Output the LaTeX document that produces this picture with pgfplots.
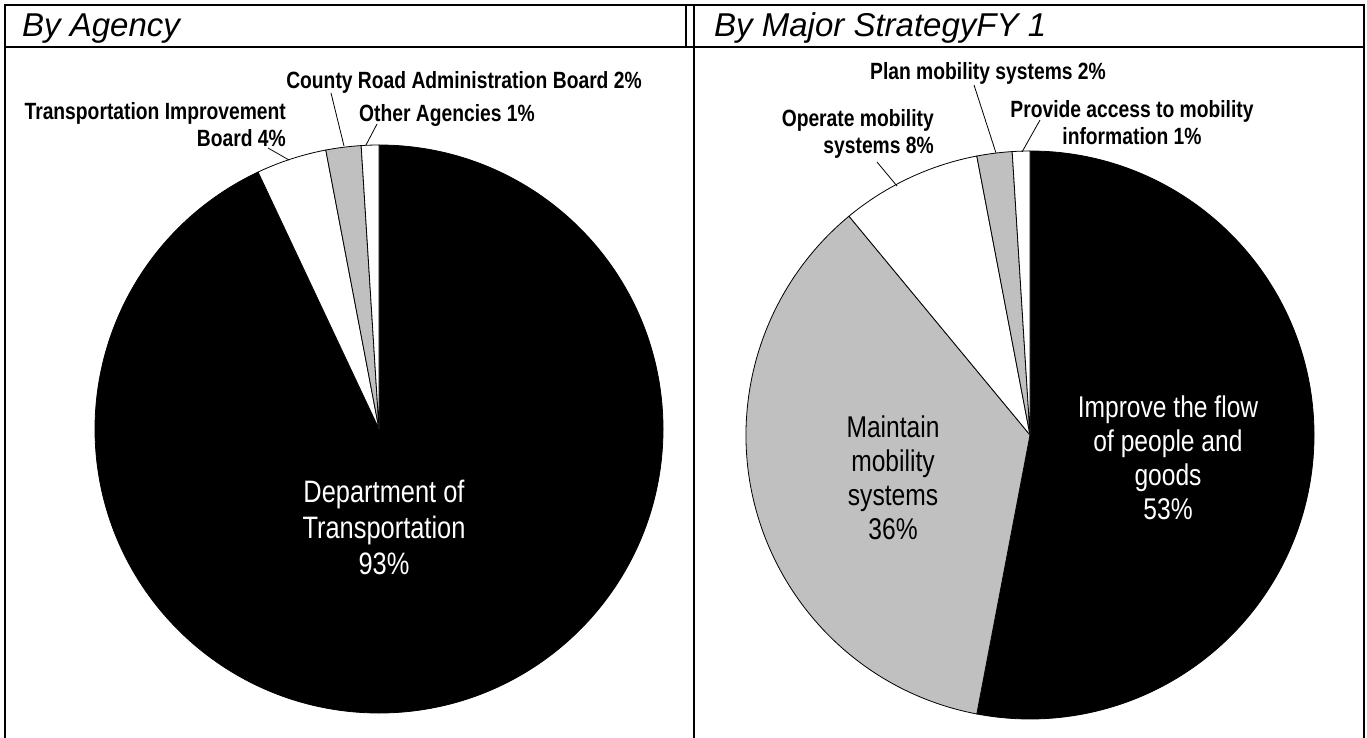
\documentclass[border=0pt]{standalone}
\usepackage{pgfplots}
\usepackage{pgfplotstable}
\pgfplotsset{compat=1.18}
\usepackage{fontspec}
\setmainfont{Liberation Sans}
\newfontfamily\lblfont{Liberation Sans}[FakeStretch=0.82]
\newfontfamily\inlfont{Liberation Sans}[FakeStretch=0.82]
\newfontfamily\ttlfont{Liberation Sans}
\definecolor{slicegray}{HTML}{C0C0C0}

\pgfplotstableread{
value fillc
93 black
4 white
2 slicegray
1 white
}\agency

\pgfplotstableread{
value fillc
53 black
36 slicegray
8 white
2 slicegray
1 white
}\strategy

% draw a pie from a table: #1 table, #2 cx, #3 cy, #4 radius
\newcommand{\drawpie}[4]{%
  \pgfplotstablegetrowsof{#1}%
  \pgfmathtruncatemacro\nrows{\pgfplotsretval-1}%
  \def\acc{0}%
  \pgfplotsforeachungrouped \i in {0,...,\nrows}{%
    \pgfplotstablegetelem{\i}{value}\of#1\let\sval\pgfplotsretval
    \pgfplotstablegetelem{\i}{fillc}\of#1\let\scol\pgfplotsretval
    \pgfmathsetmacro\sA{90-3.6*\acc}%
    \pgfmathsetmacro\sB{90-3.6*(\acc+\sval)}%
    \edef\temp{\noexpand\filldraw[fill=\scol, draw=black, line width=0.8pt, line join=round]
      (axis cs:#2,#3) -- ++(\sA:#4pt) arc[start angle=\sA, end angle=\sB, radius=#4pt] -- cycle;}%
    \temp
    \pgfmathsetmacro\acc{\acc+\sval}%
  }%
}

\newcommand{\lbl}{\lblfont\bfseries\fontsize{23.5}{27}\selectfont}
\newcommand{\inl}{\inlfont\fontsize{31}{36}\selectfont}

\begin{document}
\begin{tikzpicture}
\begin{axis}[
  width=1367pt, height=738pt, scale only axis,
  xmin=0, xmax=1367, ymin=0, ymax=738, y dir=reverse,
  hide axis, clip=false,
]
% frame
\draw[line width=2pt] (axis cs:5,5) -- (axis cs:1364,5);
\draw[line width=2pt] (axis cs:5,47) -- (axis cs:1364,47);
\draw[line width=2pt] (axis cs:5,4) -- (axis cs:5,738);
\draw[line width=2pt] (axis cs:1364,4) -- (axis cs:1364,738);
\draw[line width=2pt] (axis cs:686,4) -- (axis cs:686,47);
\draw[line width=2pt] (axis cs:694,4) -- (axis cs:694,738);

% titles
\node[anchor=base west, font=\ttlfont\itshape\fontsize{33}{36}\selectfont, inner sep=0pt] at (axis cs:22,37) {By Agency};
\node[anchor=base west, font=\ttlfont\itshape\fontsize{33}{36}\selectfont, inner sep=0pt] at (axis cs:714,37) {By Major StrategyFY 1};

% pies
\drawpie{\agency}{379}{429}{284}
\drawpie{\strategy}{1030}{435}{284}

% pie 1 labels
\node[font=\lbl, inner sep=0pt] at (axis cs:464,82) {County Road Administration Board 2\%};
\node[font=\lbl, inner sep=0pt, align=right, anchor=east] at (axis cs:286,125) {Transportation Improvement\\Board 4\%};
\node[font=\lbl, inner sep=0pt] at (axis cs:447,115) {Other Agencies 1\%};
\node[font=\inl, text=white, inner sep=0pt, align=center] at (axis cs:384,527) {Department of\\Transportation\\93\%};
\draw[line width=0.8pt] (axis cs:331,93) -- (axis cs:344,146);
\draw[line width=0.8pt] (axis cs:377,124) -- (axis cs:366,145);
\draw[line width=0.8pt] (axis cs:268,148) -- (axis cs:289,160);

% pie 2 labels
\node[font=\lbl, inner sep=0pt] at (axis cs:988,73) {Plan mobility systems 2\%};
\node[font=\lbl, inner sep=0pt, align=center] at (axis cs:1132,123) {Provide access to mobility\\information 1\%};
\node[font=\lbl, inner sep=0pt, align=right, anchor=east] at (axis cs:934,134) {Operate mobility\\systems 8\%};
\node[font=\inlfont\fontsize{30}{34}\selectfont, text=white, inner sep=0pt, align=center] at (axis cs:1168,458) {Improve the flow\\of people and\\goods\\53\%};
\node[font=\inlfont\fontsize{30}{34}\selectfont, text=black, inner sep=0pt, align=center] at (axis cs:893,478) {Maintain\\mobility\\systems\\36\%};
\draw[line width=0.8pt] (axis cs:974,85) -- (axis cs:996,153);
\draw[line width=0.8pt] (axis cs:1040,120) -- (axis cs:1022,152);
\draw[line width=0.8pt] (axis cs:877,162) -- (axis cs:897,186);
\end{axis}
\pgfresetboundingbox
\path (0,0) rectangle (1367pt,738pt);
\end{tikzpicture}
\end{document}
